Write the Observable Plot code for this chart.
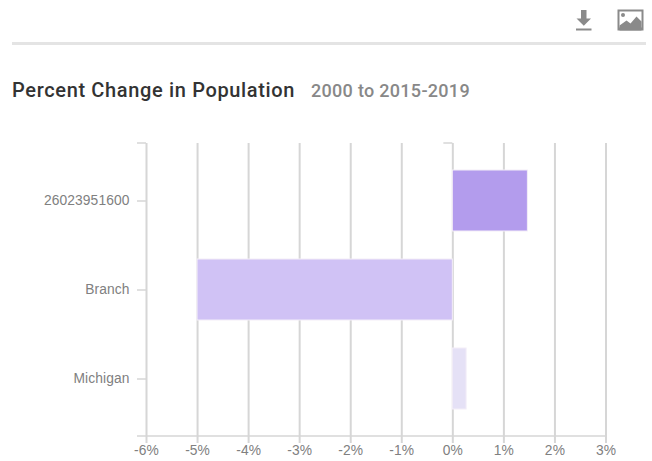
<!DOCTYPE html>
<html><head><meta charset="utf-8">
<script src="https://cdn.jsdelivr.net/npm/d3@7"></script>
<script src="https://cdn.jsdelivr.net/npm/@observablehq/plot@0.6"></script>
<style>
html,body{margin:0;padding:0;background:#fff;width:652px;height:461px;overflow:hidden;position:relative}
#rule{position:absolute;left:12px;top:42px;width:634px;height:3px;background:#e4e4e4}
#title{position:absolute;left:12px;top:78px;font:500 20px Roboto,sans-serif;letter-spacing:.65px;color:#333;white-space:nowrap}
#sub{position:absolute;left:311px;top:79.5px;font:500 18px Roboto,sans-serif;letter-spacing:.3px;color:#888;white-space:nowrap}
#icons{position:absolute;left:0;top:0}
#chart{position:absolute;left:0;top:120px}
#chart svg{display:block}
</style></head><body>
<svg id="icons" width="652" height="40">
<path d="M581 10h5.5v8.5h4.5l-7.2 7.2-7.3-7.2h4.500z" fill="#8a8a8a"/>
<rect x="576" y="28.500" width="15.500" height="2" fill="#8a8a8a"/>
<rect x="617.500" y="9.500" width="26" height="21" fill="#8a8a8a"/>
<rect x="619.500" y="11.500" width="22" height="16" fill="#fff"/>
<path d="M619.500 25.500l7-5 4 3 6-7 5 5v9h-22z" fill="#8a8a8a"/>
<circle cx="623" cy="15" r="2" fill="#8a8a8a"/>
</svg>
<div id="rule"></div>
<div id="title">Percent Change in Population</div>
<div id="sub">2000 to 2015-2019</div>
<div id="chart"></div>
<script>
const categories = ["26023951600", "Branch", "Michigan"];
const values = [1.47, -5.0, 0.27];
const barColors = ["#b39ced", "#d0c2f5", "#e5e1f6"];
const tickValues = [-6, -5, -4, -3, -2, -1, 0, 1, 2, 3];
const rows = categories.map((name, i) => ({name, value: values[i], color: barColors[i]}));
const lineColor = "#d6d6d6";

// Axis lines and the stub ticks at the frame's top edge, placed from the x scale.
function frameLines(index, {x}, channels, {marginTop, height, marginBottom}) {
  const g = d3.create("svg:g").attr("stroke", lineColor).attr("fill", "none");
  const bottom = height - marginBottom;
  g.append("line").attr("x1", x(-6) - 9).attr("x2", x(3)).attr("y1", bottom).attr("y2", bottom).attr("stroke-width", 1.5);
  for (const v of [-6, 0]) {
    g.append("line").attr("x1", x(v) - 9).attr("x2", x(v)).attr("y1", marginTop).attr("y2", marginTop).attr("stroke-width", 1.5);
  }
  return g.node();
}

const plot = Plot.plot({
  width: 652, height: 341,
  marginLeft: 146, marginRight: 46.5, marginTop: 23, marginBottom: 25,
  style: {background: "transparent", fontFamily: "'Liberation Sans', Arial, sans-serif", fontSize: "13.8px", letterSpacing: "0.1px"},
  x: {domain: [-6, 3], label: null},
  y: {domain: categories, paddingInner: 0.315, paddingOuter: 0.3, label: null},
  marks: [
    Plot.gridX(tickValues, {stroke: lineColor, strokeOpacity: 1, strokeWidth: 2}),
    frameLines,
    Plot.axisX({ticks: tickValues, tickFormat: d => d + "%", tickSize: 7, stroke: lineColor, strokeWidth: 2, strokeOpacity: 1, fill: "#808080", tickPadding: 2, label: null}),
    Plot.barX(rows, {x1: 0, x2: "value", y: "name", fill: "color", stroke: "#f3eef8", strokeWidth: 1}),
    Plot.axisY({tickSize: 9, stroke: lineColor, strokeWidth: 1.5, strokeOpacity: 1, fill: "#808080", tickPadding: 8, label: null})
  ]
});
document.getElementById("chart").appendChild(plot);
</script>
</body></html>
